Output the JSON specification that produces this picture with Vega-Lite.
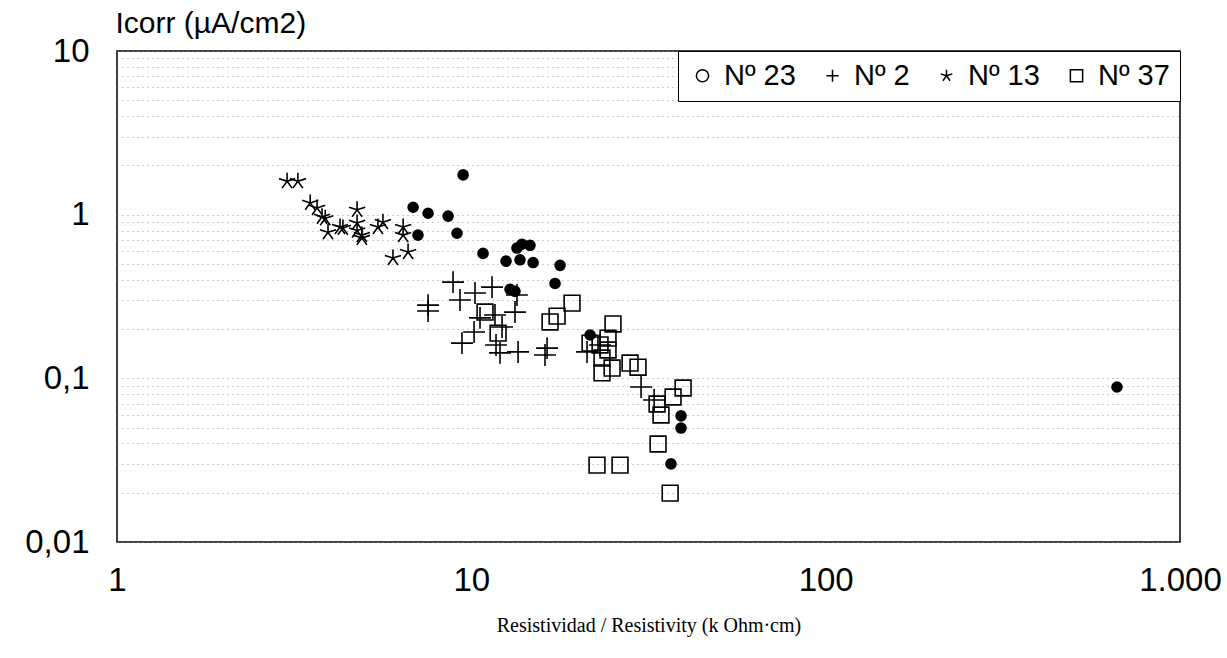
{
  "$schema": "https://vega.github.io/schema/vega-lite/v6.json",
  "width": 1063,
  "height": 491,
  "autosize": {"type": "none"},
  "padding": {"left": 117, "top": 51, "right": 47, "bottom": 116},
  "background": "white",
  "config": {
    "view": {"stroke": "black", "strokeWidth": 1.5},
    "font": "Liberation Sans"
  },
  "data": {
    "values": [
      {"series": "Nº 23", "x": 9.48, "y": 1.75},
      {"series": "Nº 23", "x": 6.85, "y": 1.11},
      {"series": "Nº 23", "x": 7.55, "y": 1.02},
      {"series": "Nº 23", "x": 8.6, "y": 0.98},
      {"series": "Nº 23", "x": 9.11, "y": 0.77},
      {"series": "Nº 23", "x": 7.07, "y": 0.75},
      {"series": "Nº 23", "x": 10.79, "y": 0.58},
      {"series": "Nº 23", "x": 13.45, "y": 0.625},
      {"series": "Nº 23", "x": 13.9, "y": 0.66},
      {"series": "Nº 23", "x": 14.64, "y": 0.65},
      {"series": "Nº 23", "x": 13.72, "y": 0.53},
      {"series": "Nº 23", "x": 14.94, "y": 0.51},
      {"series": "Nº 23", "x": 12.53, "y": 0.52},
      {"series": "Nº 23", "x": 17.8, "y": 0.49},
      {"series": "Nº 23", "x": 17.23, "y": 0.38},
      {"series": "Nº 23", "x": 12.86, "y": 0.35},
      {"series": "Nº 23", "x": 13.28, "y": 0.34},
      {"series": "Nº 23", "x": 21.63, "y": 0.184},
      {"series": "Nº 23", "x": 664, "y": 0.0885},
      {"series": "Nº 23", "x": 39.07, "y": 0.059},
      {"series": "Nº 23", "x": 39.07, "y": 0.0497},
      {"series": "Nº 23", "x": 36.6, "y": 0.03},
      {"series": "Nº 2", "x": 8.88, "y": 0.387},
      {"series": "Nº 2", "x": 9.29, "y": 0.301},
      {"series": "Nº 2", "x": 10.24, "y": 0.332},
      {"series": "Nº 2", "x": 11.44, "y": 0.361},
      {"series": "Nº 2", "x": 7.55, "y": 0.28},
      {"series": "Nº 2", "x": 7.55, "y": 0.258},
      {"series": "Nº 2", "x": 13.45, "y": 0.323},
      {"series": "Nº 2", "x": 13.28, "y": 0.254},
      {"series": "Nº 2", "x": 11.66, "y": 0.244},
      {"series": "Nº 2", "x": 10.58, "y": 0.234},
      {"series": "Nº 2", "x": 12.21, "y": 0.206},
      {"series": "Nº 2", "x": 10.18, "y": 0.192},
      {"series": "Nº 2", "x": 9.41, "y": 0.164},
      {"series": "Nº 2", "x": 11.74, "y": 0.16},
      {"series": "Nº 2", "x": 12.05, "y": 0.143},
      {"series": "Nº 2", "x": 13.55, "y": 0.145},
      {"series": "Nº 2", "x": 16.36, "y": 0.153},
      {"series": "Nº 2", "x": 16.14, "y": 0.139},
      {"series": "Nº 2", "x": 21.21, "y": 0.145},
      {"series": "Nº 2", "x": 23.08, "y": 0.16},
      {"series": "Nº 2", "x": 30.13, "y": 0.0885},
      {"series": "Nº 2", "x": 32.8, "y": 0.0737},
      {"series": "Nº 13", "x": 3.02, "y": 1.6},
      {"series": "Nº 13", "x": 3.24, "y": 1.6},
      {"series": "Nº 13", "x": 3.51, "y": 1.18},
      {"series": "Nº 13", "x": 3.67, "y": 1.1},
      {"series": "Nº 13", "x": 3.79, "y": 0.97},
      {"series": "Nº 13", "x": 3.87, "y": 0.95},
      {"series": "Nº 13", "x": 3.94, "y": 0.78},
      {"series": "Nº 13", "x": 4.26, "y": 0.84},
      {"series": "Nº 13", "x": 4.34, "y": 0.83},
      {"series": "Nº 13", "x": 4.76, "y": 1.07},
      {"series": "Nº 13", "x": 4.76, "y": 0.89},
      {"series": "Nº 13", "x": 4.76, "y": 0.8},
      {"series": "Nº 13", "x": 4.91, "y": 0.75},
      {"series": "Nº 13", "x": 4.91, "y": 0.72},
      {"series": "Nº 13", "x": 5.45, "y": 0.84},
      {"series": "Nº 13", "x": 5.63, "y": 0.9},
      {"series": "Nº 13", "x": 6.42, "y": 0.84},
      {"series": "Nº 13", "x": 6.42, "y": 0.75},
      {"series": "Nº 13", "x": 6.01, "y": 0.543},
      {"series": "Nº 13", "x": 6.63, "y": 0.591},
      {"series": "Nº 37", "x": 10.93, "y": 0.254},
      {"series": "Nº 37", "x": 11.9, "y": 0.189},
      {"series": "Nº 37", "x": 16.68, "y": 0.221},
      {"series": "Nº 37", "x": 17.46, "y": 0.24},
      {"series": "Nº 37", "x": 19.24, "y": 0.288},
      {"series": "Nº 37", "x": 21.63, "y": 0.164},
      {"series": "Nº 37", "x": 23.08, "y": 0.16},
      {"series": "Nº 37", "x": 24.31, "y": 0.176},
      {"series": "Nº 37", "x": 25.11, "y": 0.215},
      {"series": "Nº 37", "x": 24.31, "y": 0.149},
      {"series": "Nº 37", "x": 23.38, "y": 0.133},
      {"series": "Nº 37", "x": 23.38, "y": 0.108},
      {"series": "Nº 37", "x": 24.96, "y": 0.1156},
      {"series": "Nº 37", "x": 28.05, "y": 0.124},
      {"series": "Nº 37", "x": 29.54, "y": 0.117},
      {"series": "Nº 37", "x": 33.43, "y": 0.0697},
      {"series": "Nº 37", "x": 34.3, "y": 0.0597},
      {"series": "Nº 37", "x": 37.1, "y": 0.0769},
      {"series": "Nº 37", "x": 39.6, "y": 0.0873},
      {"series": "Nº 37", "x": 33.65, "y": 0.0397},
      {"series": "Nº 37", "x": 22.63, "y": 0.0295},
      {"series": "Nº 37", "x": 26.28, "y": 0.0295},
      {"series": "Nº 37", "x": 36.4, "y": 0.0199}
    ]
  },
  "mark": {"type": "point", "stroke": "black", "strokeWidth": 1.6, "opacity": 1},
  "encoding": {
    "x": {
      "field": "x",
      "type": "quantitative",
      "scale": {"type": "log", "domain": [1, 1000], "nice": false},
      "axis": {
        "values": [1, 10, 100, 1000],
        "labelExpr": "datum.value == 1000 ? '1.000' : format(datum.value, 'd')",
        "labelFlush": false,
        "labelFontSize": 33,
        "labelColor": "black",
        "labelPadding": 22,
        "ticks": false,
        "domain": false,
        "grid": false,
        "title": "Resistividad / Resistivity (k Ohm·cm)",
        "titleFont": "Liberation Serif",
        "titleFontSize": 20,
        "titleFontWeight": "normal",
        "titleColor": "black",
        "titlePadding": 18
      }
    },
    "y": {
      "field": "y",
      "type": "quantitative",
      "scale": {"type": "log", "domain": [0.01, 10], "nice": false},
      "axis": {
        "values": [0.01, 0.02, 0.03, 0.04, 0.05, 0.06, 0.07, 0.08, 0.09, 0.1, 0.2, 0.3, 0.4, 0.5, 0.6, 0.7, 0.8, 0.9, 1, 2, 3, 4, 5, 6, 7, 8, 9, 10],
        "labelExpr": "datum.value == 10 ? '10' : datum.value == 1 ? '1' : datum.value == 0.1 ? '0,1' : datum.value == 0.01 ? '0,01' : ''",
        "labelOverlap": false,
        "labelFontSize": 33,
        "labelColor": "black",
        "labelPadding": 28,
        "ticks": false,
        "domain": false,
        "grid": true,
        "gridColor": "#999999",
        "gridDash": [1, 4],
        "gridWidth": 1,
        "title": "Icorr (µA/cm2)",
        "titleAngle": 0,
        "titleAlign": "left",
        "titleBaseline": "alphabetic",
        "titleX": -2,
        "titleY": -19,
        "titleFont": "Liberation Sans",
        "titleFontSize": 30,
        "titleFontWeight": "normal",
        "titleColor": "black"
      }
    },
    "shape": {
      "field": "series",
      "type": "nominal",
      "scale": {
        "domain": ["Nº 23", "Nº 2", "Nº 13", "Nº 37"],
        "range": ["circle", "M-1,0L1,0M0,-1L0,1", "M0,0L0,-1M0,0L0.951,-0.309M0,0L0.588,0.809M0,0L-0.588,0.809M0,0L-0.951,-0.309", "square"]
      },
      "legend": {
        "title": null,
        "orient": "top-right",
        "offset": 0,
        "direction": "horizontal",
        "strokeColor": "black",
        "fillColor": "white",
        "padding": 10,
        "labelFontSize": 29,
        "labelFont": "Liberation Sans",
        "labelColor": "black",
        "labelOffset": 7,
        "columnPadding": 22,
        "symbolSize": 150,
        "symbolStrokeColor": "black",
        "symbolStrokeWidth": 1.5
      }
    },
    "fill": {
      "condition": {"test": "datum.series == 'Nº 23' || datum.value == 'Nº 23'", "value": "black"},
      "value": "transparent"
    },
    "size": {
      "condition": [
        {"test": "datum.series == 'Nº 23'", "value": 100},
        {"test": "datum.series == 'Nº 2'", "value": 480},
        {"test": "datum.series == 'Nº 13'", "value": 290}
      ],
      "value": 250
    }
  }
}
